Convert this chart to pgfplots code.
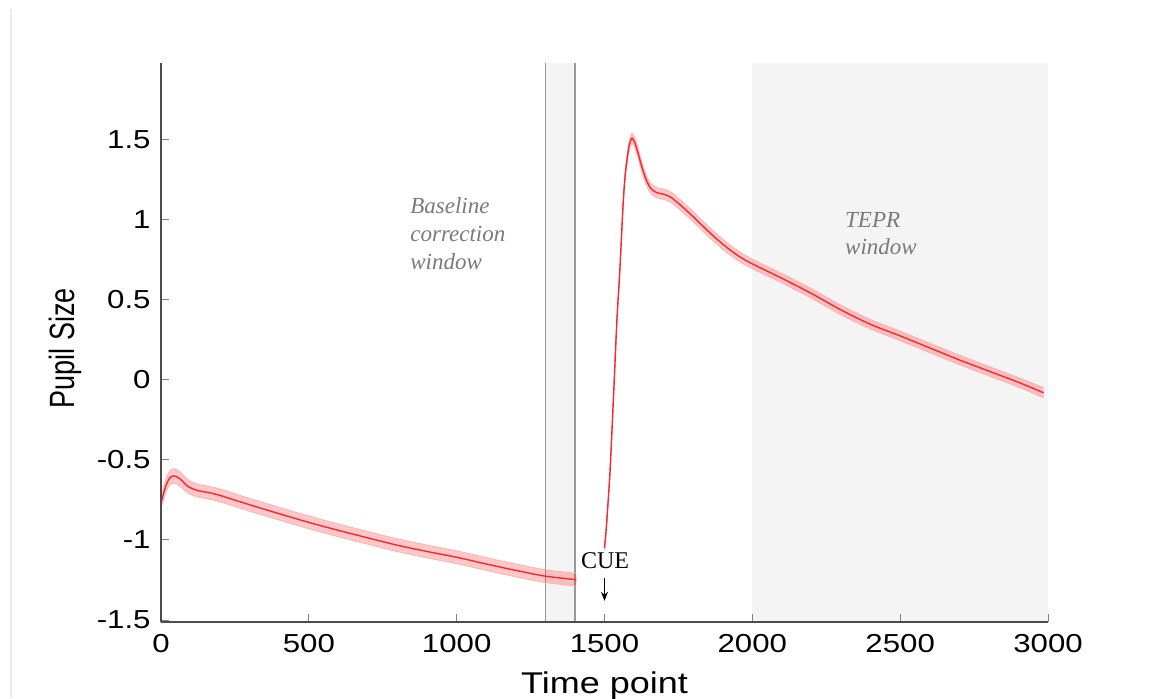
\documentclass[border=0pt]{standalone}
\usepackage{pgfplots}
\usepackage{pgfplotstable}
\pgfplotsset{compat=1.18}
\usepgfplotslibrary{fillbetween}
\usetikzlibrary{arrows.meta}
\usepackage{fontspec}
\setmainfont{Liberation Sans}
\newfontfamily\widesans[FakeStretch=1.2]{Liberation Sans}
\newfontfamily\serif{Liberation Serif}

\definecolor{meanred}{HTML}{F62830}
\definecolor{winfill}{HTML}{F4F4F4}
\definecolor{notegray}{HTML}{7A7A7A}

% t, mean, half-width of the shaded band
\pgfplotstableread{
t m e
0 -0.77 0.035
10 -0.70 0.04
20 -0.645 0.042
30 -0.612 0.044
41 -0.60 0.045
55 -0.606 0.045
70 -0.628 0.044
91 -0.665 0.042
122 -0.69 0.04
166 -0.706 0.04
200 -0.722 0.04
300 -0.78 0.04
400 -0.836 0.04
500 -0.89 0.04
600 -0.94 0.04
700 -0.987 0.04
800 -1.033 0.04
900 -1.072 0.04
1000 -1.108 0.04
1100 -1.15 0.04
1200 -1.19 0.04
1300 -1.226 0.04
1405 -1.248 0.04
}\pre

\pgfplotstableread{
t m e
1500 -1.05 0.015
1505 -0.95 0.012
1510 -0.82 0.01
1519 -0.56 0.01
1532 -0.04 0.01
1542 0.375 0.012
1552 0.69 0.015
1563 1.10 0.02
1570 1.28 0.025
1576 1.375 0.028
1584 1.47 0.03
1593 1.51 0.032
1603 1.48 0.032
1613 1.42 0.032
1625 1.34 0.032
1637 1.27 0.032
1650 1.215 0.032
1663 1.185 0.032
1680 1.168 0.032
1700 1.16 0.032
1721 1.145 0.032
1749 1.105 0.032
1800 1.02 0.032
1850 0.93 0.032
1900 0.848 0.032
1950 0.778 0.031
2000 0.725 0.03
2100 0.635 0.03
2200 0.54 0.03
2300 0.437 0.03
2400 0.347 0.03
2500 0.275 0.03
2600 0.2 0.03
2700 0.125 0.03
2800 0.055 0.03
2900 -0.015 0.03
2985 -0.08 0.032
}\post

\begin{document}
\begin{tikzpicture}
\begin{axis}[
  set layers,
  scale only axis,
  width=443.5pt, height=279.5pt,
  xmin=0, xmax=3000,
  ymin=-1.5125, ymax=1.98,
  axis x line*=bottom, axis y line*=left,
  axis line style={-, black!70, line width=0.6pt},
  axis on top,
  tick align=inside,
  major tick length=4pt,
  tick style={gray, line width=0.5pt},
  xtick={0,500,1000,1500,2000,2500,3000},
  xticklabels={0,500,1000,1500,2000,2500,3000},
  ytick={-1.5,-1,-0.5,0,0.5,1,1.5},
  yticklabels={-1.5,-1,-0.5,0,0.5,1,1.5},
  tick label style={font=\widesans\fontsize{13}{15}\selectfont, text=black},
  xticklabel style={yshift=-2.7pt},
  yticklabel style={xshift=-1.7pt},
  xlabel={Time point},
  xlabel style={font=\widesans\fontsize{15}{17}\selectfont, text=black,
    at={(axis description cs:0.5,-0.127)}, anchor=base},
  ylabel={\scalebox{1}[1.3]{Pupil Size}},
  ylabel style={font=\fontsize{13.5}{15}\selectfont, text=black,
    at={(axis description cs:-0.097,0.49)}, anchor=base},
  clip=false,
]
% shaded windows, kept behind the bands
\begin{pgfonlayer}{axis background}
\fill[winfill] (axis cs:2000,-1.5125) rectangle (axis cs:3000,1.98);
\fill[winfill] (axis cs:1300,-1.5125) rectangle (axis cs:1400,1.98);
\draw[black!40, line width=0.6pt] (axis cs:1300,-1.5125) -- (axis cs:1300,1.98);
\draw[black!40, line width=0.6pt] (axis cs:1400,-1.5125) -- (axis cs:1400,1.98);
\end{pgfonlayer}

% pre-cue segment
\addplot[name path=u1, draw=red!30, line width=0.4pt, smooth] table[x=t, y expr=\thisrow{m}+\thisrow{e}] {\pre};
\addplot[name path=l1, draw=red!30, line width=0.4pt, smooth] table[x=t, y expr=\thisrow{m}-\thisrow{e}] {\pre};
\addplot[red, fill opacity=0.22, draw=none] fill between[of=u1 and l1];
\addplot[meanred, line width=0.7pt, smooth] table[x=t, y=m] {\pre};

% post-cue segment
\addplot[name path=u2, draw=red!30, line width=0.4pt, smooth] table[x=t, y expr=\thisrow{m}+\thisrow{e}] {\post};
\addplot[name path=l2, draw=red!30, line width=0.4pt, smooth] table[x=t, y expr=\thisrow{m}-\thisrow{e}] {\post};
\addplot[red, fill opacity=0.22, draw=none] fill between[of=u2 and l2];
\addplot[meanred, line width=0.7pt, smooth] table[x=t, y=m] {\post};

% annotations
\node[font=\serif\itshape\fontsize{11.5}{14}\selectfont, text=notegray, align=left]
  at (axis cs:1004,0.9125) {Baseline\\correction\\window};
\node[font=\serif\itshape\fontsize{11.5}{13.5}\selectfont, text=notegray, align=left]
  at (axis cs:2435,0.9156) {TEPR\\window};
\node[font=\serif\fontsize{12}{14}\selectfont, text=black]
  at (axis cs:1502,-1.13) {CUE};
\draw[-{Stealth[length=4.5pt,width=3.5pt]}, black, line width=0.5pt]
  (axis cs:1500,-1.2375) -- (axis cs:1500,-1.38);

\coordinate (O) at (rel axis cs:0,0);
\end{axis}
\draw[black!8, line width=0.6pt] ([shift={(-75pt,-38pt)}]O) -- ([shift={(-75pt,306.5pt)}]O);
\pgfresetboundingbox
\path[use as bounding box] ([shift={(-80.5pt,-38pt)}]O) rectangle ([shift={(496.5pt,311pt)}]O);
\end{tikzpicture}
\end{document}
